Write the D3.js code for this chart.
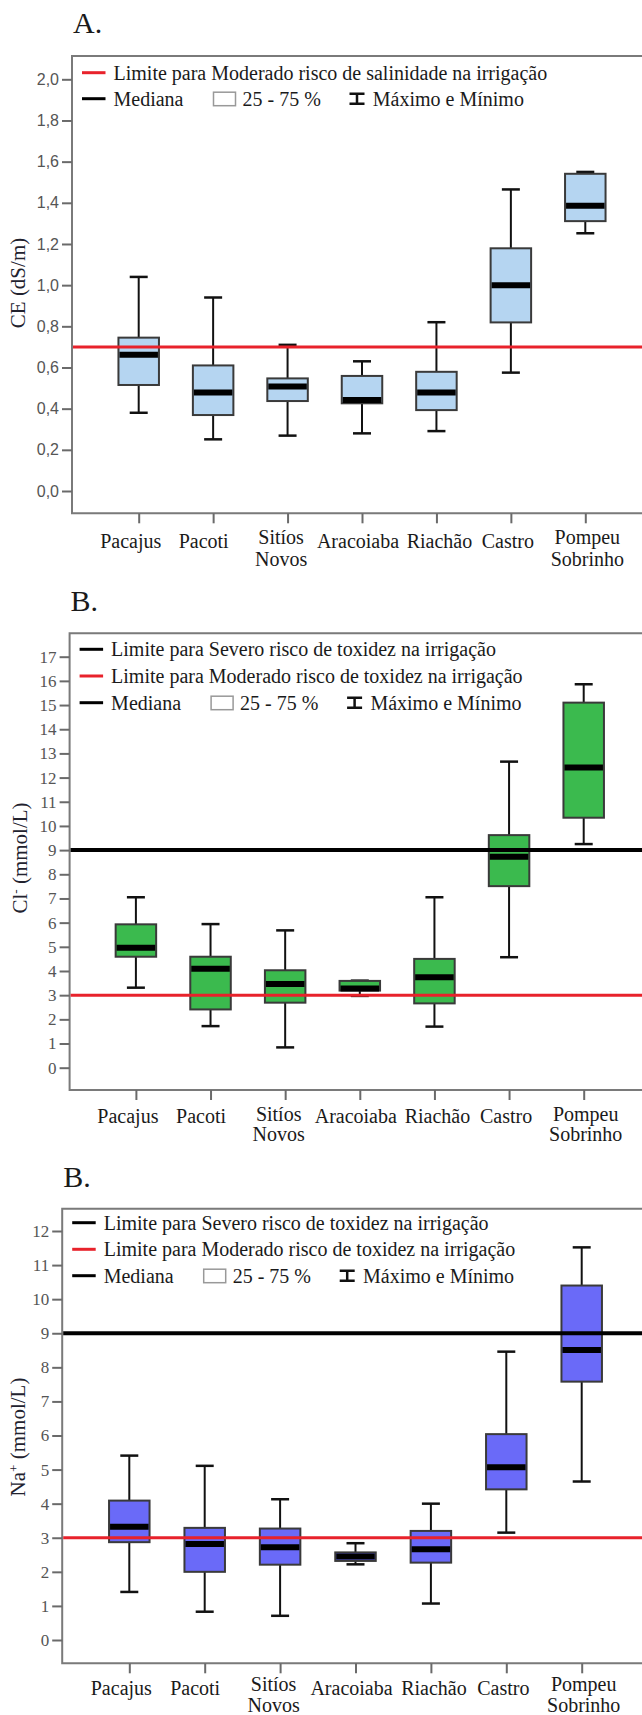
<!DOCTYPE html>
<html><head><meta charset="utf-8">
<script src="https://cdn.jsdelivr.net/npm/d3@7"></script>
<style>body{margin:0;background:#fff;} svg{display:block}</style>
</head><body>
<svg id="chart" width="642" height="1715"></svg>
<script>
// ---------- DATA ----------
const categories = ["Pacajus", "Pacoti", "Sitíos Novos", "Aracoiaba", "Riachão", "Castro", "Pompeu Sobrinho"];

// A. CE (dS/m)
const ceMax    = [1.04, 0.94, 0.71, 0.63, 0.82, 1.465, 1.55];
const ceQ3     = [0.745, 0.61, 0.547, 0.559, 0.579, 1.179, 1.541];
const ceMedian = [0.662, 0.479, 0.508, 0.442, 0.479, 0.999, 1.386];
const ceQ1     = [0.515, 0.369, 0.437, 0.426, 0.393, 0.819, 1.311];
const ceMin    = [0.38, 0.251, 0.269, 0.28, 0.291, 0.575, 1.252];
const ceTicks  = [0, 0.2, 0.4, 0.6, 0.8, 1.0, 1.2, 1.4, 1.6, 1.8, 2.0];
const ceModerateLimit = 0.7;

// B. Cl- (mmol/L)
const clMax    = [7.05, 5.94, 5.68, 3.60, 7.05, 12.66, 15.86];
const clQ3     = [5.93, 4.59, 4.03, 3.59, 4.50, 9.62, 15.10];
const clMedian = [4.96, 4.09, 3.46, 3.28, 3.74, 8.73, 12.42];
const clQ1     = [4.59, 2.41, 2.69, 3.19, 2.66, 7.51, 10.34];
const clMin    = [3.31, 1.72, 0.84, 2.97, 1.70, 4.57, 9.25];
const clTicks  = [0, 1, 2, 3, 4, 5, 6, 7, 8, 9, 10, 11, 12, 13, 14, 15, 16, 17];

// C. Na+ (mmol/L)
const naMax    = [5.41, 5.11, 4.13, 2.84, 4.00, 8.46, 11.52];
const naQ3     = [4.09, 3.29, 3.27, 2.57, 3.20, 6.04, 10.40];
const naMedian = [3.32, 2.82, 2.72, 2.45, 2.66, 5.07, 8.51];
const naQ1     = [2.87, 2.00, 2.21, 2.32, 2.27, 4.42, 7.58];
const naMin    = [1.41, 0.83, 0.71, 2.22, 1.07, 3.15, 4.65];
const naTicks  = [0, 1, 2, 3, 4, 5, 6, 7, 8, 9, 10, 11, 12];

const severeLimit = 9;
const moderateLimit = 3;

const legendSalinity = ["Limite para Moderado risco de salinidade na irrigação"];
const legendToxicity = ["Limite para Severo risco de toxidez na irrigação", "Limite para Moderado risco de toxidez na irrigação"];
const legendCommon = ["Mediana", "25 - 75 %", "Máximo e Mínimo"];

// ---------- LAYOUT ----------
const labelShift = [-8, -9.5, -6.5, -4, 3, -3, 2]; // horizontal nudges of category labels (px)

// ---------- DRAW ----------
const svg = d3.select("#chart");
const SERIF = "'Liberation Serif','Times New Roman',serif";
const SANS = "'Liberation Sans',Arial,sans-serif";
const RED = "#e8222b";
const W = 642;

function panel(o) {
  const g = svg.append("g");
  const y = d3.scaleLinear().domain([0, o.refTick]).range([o.zeroPx, o.refPx]);
  const x = d3.scalePoint().domain(categories).range(o.xRange);

  g.append("text").attr("x", o.left + 1).attr("y", o.titleBase)
    .attr("font-family", SERIF).attr("font-size", 30).attr("fill", "#1a1a1a").text(o.title);

  g.append("path").attr("d", `M${W + 2},${o.top}H${o.left}V${o.bottom}H${W + 2}`)
    .attr("fill", "none").attr("stroke", "#7a7a7a").attr("stroke-width", 2);

  const ya = d3.axisLeft(y).tickValues(o.ticks).tickFormat(o.fmt).tickSize(10).tickPadding(3);
  const yg = g.append("g").attr("transform", `translate(${o.left},0)`).call(ya);
  yg.select(".domain").remove();
  yg.selectAll(".tick line").attr("stroke", "#6a6a6a").attr("stroke-width", 2);
  yg.selectAll(".tick text").attr("font-family", o.tickFont).attr("font-size", o.tickFontSize)
    .attr("fill", "#555");

  const xa = d3.axisBottom(x).tickSize(10).tickFormat("");
  const xg = g.append("g").attr("transform", `translate(0,${o.bottom})`).call(xa);
  xg.select(".domain").remove();
  xg.selectAll(".tick line").attr("stroke", "#6a6a6a").attr("stroke-width", 2);

  g.selectAll(".xl").data(categories).join("text")
    .attr("text-anchor", "middle").attr("font-family", SERIF).attr("font-size", 20).attr("fill", "#1a1a1a")
    .each(function (d, i) {
      const parts = d.split(" ");
      const t = d3.select(this);
      const cx = x(d) + labelShift[i];
      if (parts.length === 1) {
        t.append("tspan").attr("x", cx).attr("y", o.bottom + o.lab1).text(d);
      } else {
        t.append("tspan").attr("x", cx).attr("y", o.bottom + o.lab2a).text(parts[0]);
        t.append("tspan").attr("x", cx).attr("y", o.bottom + o.lab2b).text(parts[1]);
      }
    });

  const yt = g.append("text").attr("transform", `translate(${o.ytX},${o.ytY}) rotate(-90)`)
    .attr("text-anchor", "middle").attr("font-family", SERIF).attr("font-size", 21).attr("fill", "#22222e");
  o.yTitle.forEach(p => {
    const ts = yt.append("tspan").text(p.t);
    if (p.sup) ts.attr("baseline-shift", "super").attr("font-size", 13);
  });

  const data = categories.map((c, i) => ({ c, min: o.min[i], q1: o.q1[i], med: o.med[i], q3: o.q3[i], max: o.max[i] }));
  const bw = 40.5, cw = 18;
  const bx = g.selectAll(".bx").data(data).join("g");
  bx.append("line").attr("x1", d => x(d.c)).attr("x2", d => x(d.c))
    .attr("y1", d => y(d.max)).attr("y2", d => y(d.q3)).attr("stroke", "#111").attr("stroke-width", 2);
  bx.append("line").attr("x1", d => x(d.c)).attr("x2", d => x(d.c))
    .attr("y1", d => y(d.q1)).attr("y2", d => y(d.min)).attr("stroke", "#111").attr("stroke-width", 2);
  bx.append("line").attr("x1", d => x(d.c) - cw / 2).attr("x2", d => x(d.c) + cw / 2)
    .attr("y1", d => y(d.max)).attr("y2", d => y(d.max)).attr("stroke", "#111").attr("stroke-width", 2.5);
  bx.append("line").attr("x1", d => x(d.c) - cw / 2).attr("x2", d => x(d.c) + cw / 2)
    .attr("y1", d => y(d.min)).attr("y2", d => y(d.min)).attr("stroke", "#111").attr("stroke-width", 2.5);
  bx.append("rect").attr("x", d => x(d.c) - bw / 2).attr("width", bw)
    .attr("y", d => y(d.q3)).attr("height", d => y(d.q1) - y(d.q3))
    .attr("fill", o.fill).attr("stroke", "#3a3a3a").attr("stroke-width", 2);
  bx.append("line").attr("x1", d => x(d.c) - bw / 2 + 1).attr("x2", d => x(d.c) + bw / 2 - 1)
    .attr("y1", d => y(d.med)).attr("y2", d => y(d.med)).attr("stroke", "#000").attr("stroke-width", 6);

  o.refs.forEach(r => {
    g.append("line").attr("x1", o.left + 1).attr("x2", W + 2).attr("y1", y(r.v)).attr("y2", y(r.v))
      .attr("stroke", r.color).attr("stroke-width", r.w);
  });

  const L = o.left;
  o.legendLines.forEach((txt, i) => {
    const ry = o.rows[i];
    g.append("line").attr("x1", L + 10).attr("x2", L + 33.5).attr("y1", ry).attr("y2", ry)
      .attr("stroke", o.legendColors[i]).attr("stroke-width", 3);
    g.append("text").attr("x", L + 41.5).attr("y", ry + 7).attr("font-family", SERIF).attr("font-size", 20)
      .attr("fill", "#1a1a1a").text(txt);
  });
  const ry = o.rows[o.rows.length - 1];
  g.append("line").attr("x1", L + 10).attr("x2", L + 33.5).attr("y1", ry).attr("y2", ry)
    .attr("stroke", "#000").attr("stroke-width", 3);
  g.append("text").attr("x", L + 41.5).attr("y", ry + 7).attr("font-family", SERIF).attr("font-size", 20)
    .attr("fill", "#1a1a1a").text(legendCommon[0]);
  g.append("rect").attr("x", L + 141.5).attr("y", ry - 6.5).attr("width", 22).attr("height", 13.5)
    .attr("fill", "#fff").attr("stroke", "#999").attr("stroke-width", 1.5);
  g.append("text").attr("x", L + 170.5).attr("y", ry + 7).attr("font-family", SERIF).attr("font-size", 20)
    .attr("fill", "#1a1a1a").text(legendCommon[1]);
  const ix = L + 277.5;
  g.append("path").attr("d", `M${ix},${ry - 5}H${ix + 15}M${ix + 7.5},${ry - 5}V${ry + 5}M${ix},${ry + 5}H${ix + 15}`)
    .attr("fill", "none").attr("stroke", "#111").attr("stroke-width", 2.5);
  g.append("text").attr("x", L + 300.8).attr("y", ry + 7).attr("font-family", SERIF).attr("font-size", 20)
    .attr("fill", "#1a1a1a").text(legendCommon[2]);
}

const commaFmt = d => d3.format(".1f")(d).replace(".", ",");

panel({
  title: "A.", titleBase: 33, left: 72, top: 56, bottom: 513.3,
  zeroPx: 491, refTick: 2, refPx: 79.3, xRange: [138.7, 585.3],
  ticks: ceTicks, fmt: commaFmt, tickFont: SANS, tickFontSize: 16,
  lab1: 34.5, lab2a: 31, lab2b: 52.5,
  ytX: 25, ytY: 283, yTitle: [{ t: "CE (dS/m)" }],
  min: ceMin, q1: ceQ1, med: ceMedian, q3: ceQ3, max: ceMax, fill: "#b5d5f1",
  refs: [{ v: ceModerateLimit, color: RED, w: 3 }],
  legendLines: legendSalinity, legendColors: [RED], rows: [72.7, 98.7]
});

panel({
  title: "B.", titleBase: 611, left: 69.6, top: 633.3, bottom: 1090,
  zeroPx: 1067.7, refTick: 17, refPx: 656.7, xRange: [135.9, 583.7],
  ticks: clTicks, fmt: d3.format("d"), tickFont: SERIF, tickFontSize: 17,
  lab1: 33, lab2a: 31, lab2b: 50.5,
  ytX: 27, ytY: 858, yTitle: [{ t: "Cl" }, { t: "-", sup: true }, { t: " (mmol/L)" }],
  min: clMin, q1: clQ1, med: clMedian, q3: clQ3, max: clMax, fill: "#3bba4e",
  refs: [{ v: severeLimit, color: "#000", w: 4 }, { v: moderateLimit, color: RED, w: 3 }],
  legendLines: legendToxicity, legendColors: ["#000", RED], rows: [649.3, 676, 702.7]
});

panel({
  title: "B.", titleBase: 1186.7, left: 62.2, top: 1208.7, bottom: 1663.3,
  zeroPx: 1640, refTick: 12, refPx: 1231, xRange: [129.3, 581.7],
  ticks: naTicks, fmt: d3.format("d"), tickFont: SERIF, tickFontSize: 17,
  lab1: 32, lab2a: 28, lab2b: 48.5,
  ytX: 25, ytY: 1437, yTitle: [{ t: "Na" }, { t: "+", sup: true }, { t: " (mmol/L)" }],
  min: naMin, q1: naQ1, med: naMedian, q3: naQ3, max: naMax, fill: "#6a6af8",
  refs: [{ v: severeLimit, color: "#000", w: 4 }, { v: moderateLimit, color: RED, w: 3 }],
  legendLines: legendToxicity, legendColors: ["#000", RED], rows: [1222.7, 1249.3, 1275.7]
});
</script>
</body></html>
